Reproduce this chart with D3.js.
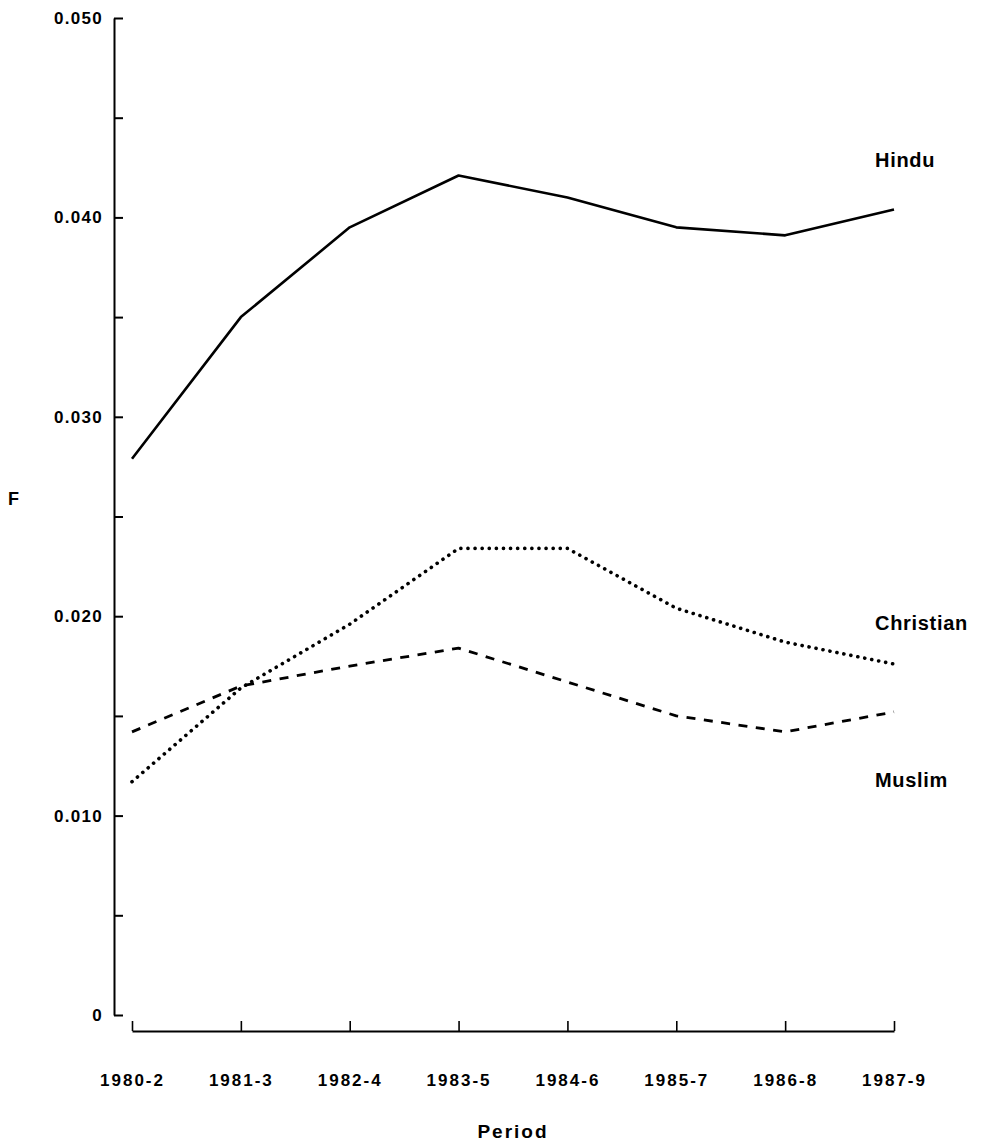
<!DOCTYPE html>
<html>
<head>
<meta charset="utf-8">
<script src="https://cdn.jsdelivr.net/npm/d3@7"></script>
<style>
  html, body { margin: 0; padding: 0; background: #fff; }
  svg { display: block; }
  text { font-family: "Liberation Sans", Arial, sans-serif; font-weight: bold; fill: #000; }
</style>
</head>
<body>
<svg id="chart" width="984" height="1143"></svg>
<script>
// ---- data ----
const periods = ["1980-2", "1981-3", "1982-4", "1983-5", "1984-6", "1985-7", "1986-8", "1987-9"];
const hindu     = [0.0279, 0.0350, 0.0395, 0.0421, 0.0410, 0.0395, 0.0391, 0.0404];
const christian = [0.0117, 0.0164, 0.0196, 0.0234, 0.0234, 0.0204, 0.0187, 0.0176];
const muslim    = [0.0142, 0.0165, 0.0175, 0.0184, 0.0167, 0.0150, 0.0142, 0.0152];
const seriesNames = ["Hindu", "Christian", "Muslim"];
const yTicks = [0, 0.005, 0.010, 0.015, 0.020, 0.025, 0.030, 0.035, 0.040, 0.045, 0.050];
const yLabels = ["0", "", "0.010", "", "0.020", "", "0.030", "", "0.040", "", "0.050"];
const xTitle = "Period";
const yTitle = "F";

// ---- layout ----
const svg = d3.select("#chart");
const x = d3.scalePoint().domain(periods).range([132, 894]);
const y = d3.scaleLinear().domain([0, 0.05]).range([1015, 18]);
const yAxisX = 114;
const xAxisY = 1031;

// y axis (ticks pointing inward)
const yAxis = d3.axisLeft(y)
  .tickValues(yTicks)
  .tickFormat((d, i) => yLabels[i])
  .tickSizeInner(-9)
  .tickSizeOuter(0)
  .tickPadding(11);
const gy = svg.append("g").attr("transform", `translate(${yAxisX},0)`).call(yAxis);
gy.select(".domain").attr("stroke", "#000").attr("stroke-width", 2);
gy.selectAll(".tick line").attr("stroke", "#000").attr("stroke-width", 2);
gy.selectAll(".tick text")
  .attr("font-size", 17).attr("font-family", null).attr("fill", "#000")
  .style("letter-spacing", "1.3px");

// x axis (ticks pointing up)
const xAxis = d3.axisBottom(x)
  .tickSizeInner(-10)
  .tickSizeOuter(0)
  .tickPadding(43);
const gx = svg.append("g").attr("transform", `translate(0,${xAxisY})`).call(xAxis);
gx.select(".domain").attr("stroke", "#000").attr("stroke-width", 2);
gx.selectAll(".tick line").attr("stroke", "#000").attr("stroke-width", 1.6);
gx.selectAll(".tick text")
  .attr("font-size", 17).attr("font-family", null).attr("fill", "#000")
  .style("letter-spacing", "2px");

// lines
const line = d3.line().x((d, i) => x(periods[i])).y(d => y(d));
const styles = [
  { data: hindu, dash: null, width: 2.6, cap: "butt" },
  { data: christian, dash: "0.1 7", width: 3.6, cap: "round" },
  { data: muslim, dash: "9 8.5", width: 2.8, cap: "butt" }
];
styles.forEach(s => {
  const p = svg.append("path")
    .datum(s.data)
    .attr("d", line)
    .attr("fill", "none")
    .attr("stroke", "#000")
    .attr("stroke-width", s.width)
    .attr("stroke-linecap", s.cap)
    .attr("stroke-linejoin", "round");
  if (s.dash) p.attr("stroke-dasharray", s.dash);
});

// series labels
const lastX = x(periods[periods.length - 1]);
const labelOffsets = [-49, -41, 68];
[hindu, christian, muslim].forEach((arr, i) => {
  svg.append("text")
    .attr("x", lastX - 19)
    .attr("y", y(arr[arr.length - 1]) + labelOffsets[i])
    .attr("dy", "0.35em")
    .attr("font-size", 20)
    .style("letter-spacing", "0.7px")
    .text(seriesNames[i]);
});

// axis titles
svg.append("text")
  .attr("x", (132 + 894) / 2)
  .attr("y", 1138)
  .attr("text-anchor", "middle")
  .attr("font-size", 19)
  .style("letter-spacing", "2px")
  .text(xTitle);

svg.append("text")
  .attr("x", 8)
  .attr("y", 505)
  .attr("font-size", 18)
  .text(yTitle);
</script>
</body>
</html>
